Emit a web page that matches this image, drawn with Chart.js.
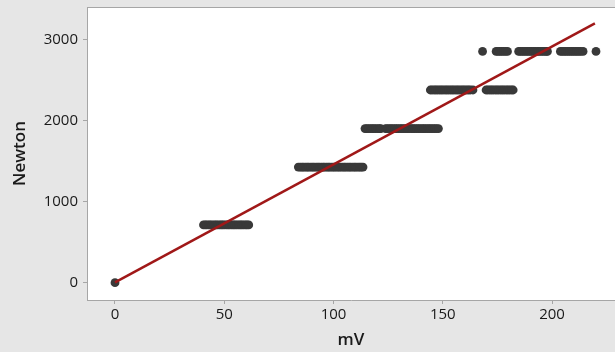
<!DOCTYPE html>
<html>
<head>
<meta charset="utf-8">
<script src="https://cdn.jsdelivr.net/npm/chart.js@4/dist/chart.umd.min.js"></script>
<style>
  html, body { margin: 0; padding: 0; background: #e6e6e6; overflow: hidden; }
  #wrap { width: 615px; height: 352px; }
</style>
</head>
<body>
<div id="wrap"><canvas id="c" width="615" height="352"></canvas></div>
<script>
// Force levels (Newton) and the mV readings recorded at each level
const newtonLevels = [0, 712.5, 1425, 1900, 2375, 2850];
const mvLevel0 = [0];
const mvLevel1 = [40.5, 41.3, 42.0, 42.9, 43.6, 44.4, 45.3, 46.1, 46.8, 47.7, 48.5, 49.2, 50.0, 50.9,
  51.7, 52.4, 53.3, 54.1, 54.8, 55.6, 56.5, 57.3, 58.0, 58.8, 59.7, 60.4, 61.2];
const mvLevel2 = [83.9, 84.8, 85.6, 86.3, 87.2, 88.0, 88.7, 89.6, 90.4, 91.1, 92.0, 92.8, 93.5, 94.4,
  95.2, 95.9, 96.8, 97.6, 98.3, 99.2, 100.0, 100.7, 101.6, 102.4, 103.1, 104.0, 104.8, 105.5,
  106.4, 107.2, 107.9, 108.8, 109.6, 110.3, 111.2, 112.0, 112.7, 113.5];
const mvLevel3 = [114.4, 115.2, 116.0, 116.9, 117.7, 118.5, 119.3, 120.2, 121.0, 121.6,
  123.8, 124.6, 125.5, 126.3, 127.1, 128.0, 128.8, 129.6, 130.5, 131.3, 132.1, 133.0, 133.8,
  134.6, 135.5, 136.3, 137.1, 138.0, 138.8, 139.6, 140.5, 141.3, 142.1, 143.0, 143.8, 144.6,
  145.5, 146.3, 147.1, 148.0];
const mvLevel4 = [144.3, 145.1, 146.0, 146.8, 147.6, 148.5, 149.3, 150.1, 151.0, 151.8, 152.6,
  153.5, 154.3, 155.1, 156.0, 156.8, 157.6, 158.5, 159.3, 160.1, 161.0, 161.8, 162.6, 163.8,
  169.8, 170.6, 171.5, 172.3, 173.1, 174.0, 174.8, 175.6, 176.5, 177.3, 178.1, 179.0, 179.8,
  180.6, 181.5, 182.2];
const mvLevel5 = [168.2,
  174.4, 175.2, 176.1, 176.9, 177.8, 178.7, 179.6,
  184.7, 185.5, 186.4, 187.2, 188.1, 188.9, 189.8, 190.6, 191.5, 192.3, 193.2, 194.0, 194.9,
  195.7, 196.6, 197.4, 197.9,
  203.8, 204.6, 205.5, 206.3, 207.2, 208.0, 208.9, 209.7, 210.6, 211.4, 212.3, 213.1, 214.2,
  220.1];
const mvByLevel = [mvLevel0, mvLevel1, mvLevel2, mvLevel3, mvLevel4, mvLevel5];

// Fitted line end points
const fitMv = [0, 219.6];
const fitNewton = [4, 3197];

// Tick labels
const xTicks = [0, 50, 100, 150, 200];
const yTicks = [0, 1000, 2000, 3000];

const points = [];
mvByLevel.forEach((list, i) => list.forEach(mv => points.push({ x: mv, y: newtonLevels[i] })));
const fitPoints = fitMv.map((mv, i) => ({ x: mv, y: fitNewton[i] }));

const frame = {
  id: 'frame',
  beforeDraw(chart) {
    const { ctx, chartArea: a } = chart;
    ctx.save();
    ctx.fillStyle = '#e6e6e6';
    ctx.fillRect(0, 0, chart.width, chart.height);
    ctx.fillStyle = '#ffffff';
    ctx.fillRect(a.left, a.top, a.right - a.left, a.bottom - a.top);
    ctx.restore();
  },
  afterDraw(chart) {
    const { ctx, chartArea: a } = chart;
    ctx.save();
    ctx.strokeStyle = '#a6a6a6';
    ctx.lineWidth = 1;
    ctx.beginPath();
    ctx.moveTo(a.left, a.top + 0.5);
    ctx.lineTo(a.right, a.top + 0.5);
    ctx.stroke();
    ctx.restore();
  }
};

const tickFont = { family: '"Open Sans", "Noto Sans", sans-serif', size: 15 };
const titleFont = { family: '"Open Sans", "Noto Sans", sans-serif', size: 17, weight: '600' };

new Chart(document.getElementById('c'), {
  data: {
    datasets: [
      {
        type: 'line',
        data: fitPoints,
        borderColor: '#a01818',
        borderWidth: 2.5,
        pointRadius: 0,
        fill: false,
        order: 0
      },
      {
        type: 'scatter',
        data: points,
        backgroundColor: '#393939',
        borderWidth: 0,
        pointRadius: 4.4,
        order: 1
      }
    ]
  },
  options: {
    responsive: false,
    animation: false,
    events: [],
    layout: { autoPadding: false, padding: { top: 7, left: 0, right: 0, bottom: 0 } },
    plugins: { legend: { display: false }, tooltip: { enabled: false } },
    scales: {
      x: {
        type: 'linear',
        min: -12.81,
        max: 228.8,
        afterBuildTicks(s) { s.ticks = xTicks.map(v => ({ value: v })); },
        afterFit(s) {
          s.height = 52;
          s.paddingLeft = 0; s.paddingRight = 0; s.paddingTop = 0; s.paddingBottom = 0;
        },
        border: { display: true, color: '#a6a6a6', width: 1 },
        grid: { drawOnChartArea: false, drawTicks: true, tickLength: 4, color: '#a6a6a6' },
        ticks: { font: tickFont, color: '#1a1a1a', padding: 2, maxRotation: 0, callback: v => String(v) },
        title: { display: true, text: 'mV', font: titleFont, color: '#1a1a1a', padding: { top: 0, bottom: 2 } }
      },
      y: {
        type: 'linear',
        min: -213,
        max: 3398,
        afterBuildTicks(s) { s.ticks = yTicks.map(v => ({ value: v })); },
        afterFit(s) {
          s.width = 87;
          s.paddingLeft = 0; s.paddingRight = 0; s.paddingTop = 0; s.paddingBottom = 0;
        },
        border: { display: true, color: '#a6a6a6', width: 1 },
        grid: { drawOnChartArea: false, drawTicks: true, tickLength: 4, color: '#a6a6a6' },
        ticks: { font: tickFont, color: '#1a1a1a', padding: 5, callback: v => String(v) },
        title: { display: true, text: 'Newton', font: titleFont, color: '#1a1a1a', padding: { top: 9.5, bottom: 0 } }
      }
    }
  },
  plugins: [frame]
});
</script>
</body>
</html>
